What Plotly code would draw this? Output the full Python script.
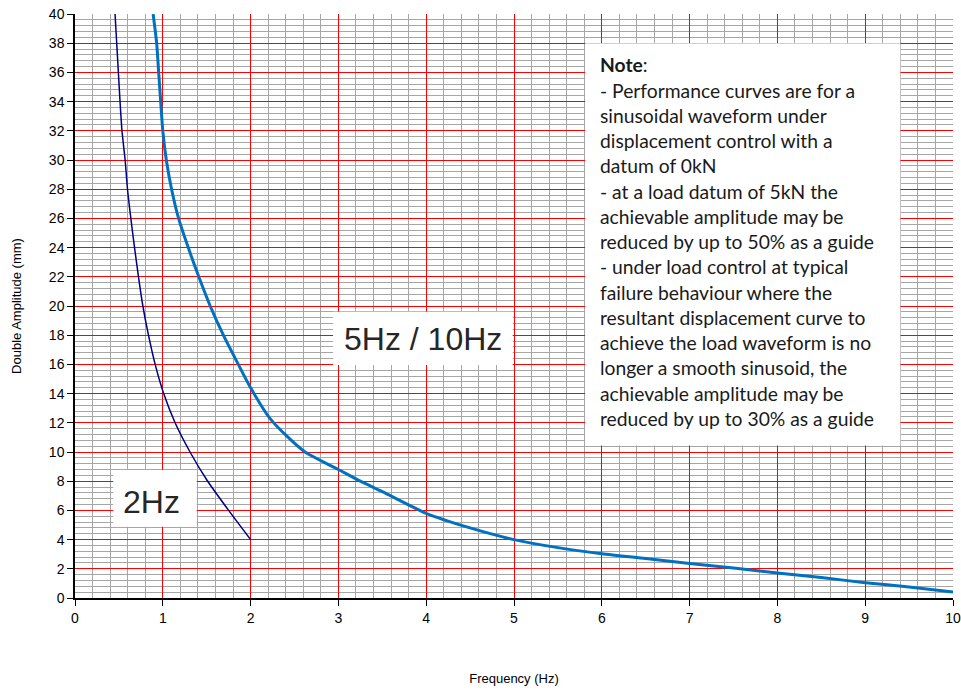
import plotly.graph_objects as go

# ---- data ----
freq_5_10hz = [0.89, 0.93, 0.953, 0.976, 1.0, 1.04, 1.10, 1.18, 1.29, 1.41, 1.54, 1.69, 1.86,
               2.0, 2.22, 2.41, 2.62, 3.0, 3.25, 3.5, 4.0, 4.5, 5.0, 5.5, 6.0, 6.5, 7.0,
               7.5, 8.0, 8.5, 9.0, 9.5, 10.0]
amp_5_10hz = [40, 38, 36, 34, 32, 30, 28, 26, 24, 22, 20, 18, 16,
              14.4, 12.3, 11.1, 10, 8.8, 8.0, 7.28, 5.8, 4.8, 4.0, 3.45, 3.03, 2.7, 2.36,
              2.05, 1.71, 1.4, 1.05, 0.75, 0.41]

freq_2hz = [0.456, 0.475, 0.494, 0.513, 0.535, 0.571, 0.598, 0.636, 0.678, 0.723, 0.773,
            0.837, 0.913, 1.01, 1.14, 1.31, 1.5, 1.75, 2.0]
amp_2hz = [40, 38, 36, 34, 32, 30, 28, 26, 24, 22, 20, 18, 16, 14, 12, 10, 8.1, 6.0, 4.0]

x_ticks = list(range(0, 11))
y_ticks = list(range(0, 41, 2))

note_lines = [
    "<b>Note</b>:",
    "- Performance curves are for a",
    "sinusoidal waveform under",
    "displacement control with a",
    "datum of 0kN",
    "- at a load datum of 5kN the",
    "achievable amplitude may be",
    "reduced by up to 50% as a guide",
    "- under load control at typical",
    "failure behaviour where the",
    "resultant displacement curve to",
    "achieve the load waveform is no",
    "longer a smooth sinusoid, the",
    "achievable amplitude may be",
    "reduced by up to 30% as a guide",
]

W, H = 961, 691
ML, MR, MT, MB = 75, 8, 14, 93
plot_h = H - MT - MB
plot_w = W - ML - MR

# minor grid positions (excluding major positions so colours don't mix)
x_minor = [i / 5 for i in range(0, 51) if i % 5 != 0]
y_minor = [round(i * 0.4, 2) for i in range(0, 101) if i % 5 != 0]

fig = go.Figure()
fig.add_trace(go.Scatter(x=freq_2hz, y=amp_2hz, mode="lines",
                         line=dict(color="#000080", width=1.5, shape="spline", smoothing=0.6),
                         name="2Hz", hoverinfo="x+y"))
fig.add_trace(go.Scatter(x=freq_5_10hz, y=amp_5_10hz, mode="lines",
                         line=dict(color="#0070C0", width=3, shape="spline", smoothing=0.7),
                         name="5Hz / 10Hz", hoverinfo="x+y"))

shapes = [
    # note box
    dict(type="rect", xref="x", yref="y", x0=5.81, x1=9.40, y0=10.45, y1=38.0,
         fillcolor="white", line=dict(width=0), layer="above"),
    # 5Hz / 10Hz label box
    dict(type="rect", xref="x", yref="y", x0=2.94, x1=4.985, y0=15.96, y1=19.6,
         fillcolor="white", line=dict(width=0), layer="above"),
    # 2Hz label box
    dict(type="rect", xref="x", yref="y", x0=0.436, x1=1.386, y0=4.88, y1=8.77,
         fillcolor="white", line=dict(width=0), layer="above"),
]

annotations = [
    dict(text="5Hz / 10Hz", x=3.96, y=17.75, xref="x", yref="y", showarrow=False,
         font=dict(family="Liberation Sans, Arial", size=32, color="#262626")),
    dict(text="2Hz", x=0.87, y=6.55, xref="x", yref="y", showarrow=False,
         font=dict(family="Liberation Sans, Arial", size=32, color="#262626")),
]
for i, line in enumerate(note_lines):
    py = 65 + 25.24 * i
    annotations.append(dict(text=line, x=(598 - ML) / plot_w, y=(H - MB - py) / plot_h,
                            xref="paper", yref="paper", xanchor="left", yanchor="middle",
                            showarrow=False,
                            font=dict(family="Lato, Open Sans", size=19.3, color="#1a1a1a")))

fig.update_layout(
    width=W, height=H,
    margin=dict(l=ML, r=MR, t=MT, b=MB, autoexpand=False),
    paper_bgcolor="white", plot_bgcolor="white",
    showlegend=False,
    shapes=shapes,
    annotations=annotations,
    font=dict(family="Liberation Sans, Arial", color="black"),
    xaxis=dict(range=[0, 10], tickvals=x_ticks, ticks="outside", ticklen=6, tickcolor="black",
               showline=True, linecolor="black", linewidth=1.5, automargin=False,
               showgrid=True, gridcolor="#FF0000", gridwidth=1,
               minor=dict(tickvals=x_minor, showgrid=True, gridcolor="#A6A6A6", gridwidth=1.2),
               tickfont=dict(size=14), zeroline=False,
               title=dict(text="Frequency (Hz)", font=dict(size=13), standoff=49)),
    yaxis=dict(range=[0, 40], tickvals=y_ticks, ticks="outside", ticklen=6, tickcolor="black",
               showline=True, linecolor="black", linewidth=1.5, automargin=False,
               showgrid=True, gridcolor="#FF0000", gridwidth=1.2,
               minor=dict(tickvals=y_minor, showgrid=True, gridcolor="#A6A6A6", gridwidth=1.2),
               tickfont=dict(size=14), zeroline=False,
               title=dict(text="Double Amplitude (mm)", font=dict(size=13), standoff=24)),
)

# remove the browser's default 8px page margin so the figure fills the window exactly
fig.write_html("out.html", config={"displayModeBar": False},
               post_script="document.body.style.margin='0px';")
